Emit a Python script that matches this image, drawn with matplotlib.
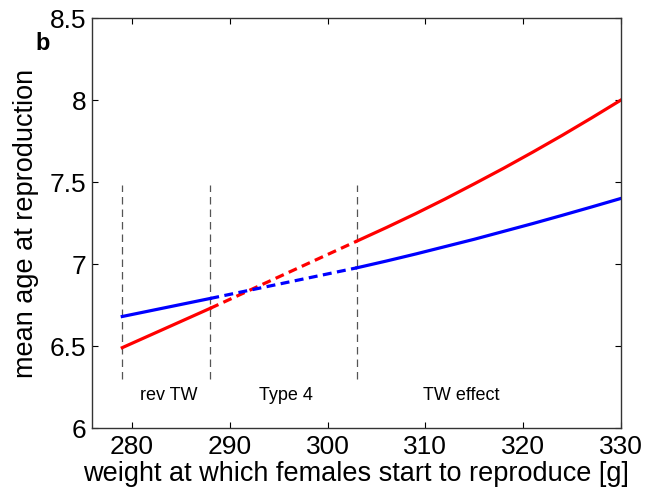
import numpy as np
import matplotlib.pyplot as plt

plt.rcParams['font.family'] = ['Liberation Sans', 'DejaVu Sans']

# boundaries between regimes
bounds = [279, 288, 303]

# red curve: solid left part, dashed middle, solid right part
red_left_x = [279, 288]
red_left_y = [6.49, 6.73]
red_mid_x = [288, 303]
red_mid_y = [6.73, 7.14]
red_right_x = [303, 306, 309, 312, 315, 318, 321, 324, 327, 330]
red_right_y = [7.14, 7.222, 7.307, 7.396, 7.489, 7.584, 7.683, 7.785, 7.891, 8.00]

# blue curve
blue_left_x = [279, 288]
blue_left_y = [6.68, 6.79]
blue_mid_x = [288, 303]
blue_mid_y = [6.79, 6.977]
blue_right_x = [303, 306, 309, 312, 315, 318, 321, 324, 327, 330]
blue_right_y = [6.977, 7.018, 7.061, 7.106, 7.151, 7.199, 7.247, 7.297, 7.348, 7.40]

region_labels = ['rev TW', 'Type 4', 'TW effect']
region_x = [283.8, 295.7, 313.7]

fig = plt.figure(figsize=(6.56, 4.91), dpi=100)
ax = fig.add_axes([0.1402, 0.1283, 0.8064, 0.835])

for b in bounds:
    ax.plot([b, b], [6.3, 7.48], color='#555555', lw=0.9, linestyle=(0, (6, 4)))

lw = 2.3
dash = (0, (2.8, 1.7))
ax.plot(red_left_x, red_left_y, color='red', lw=lw)
ax.plot(red_mid_x, red_mid_y, color='red', lw=lw, linestyle=dash)
ax.plot(red_right_x, red_right_y, color='red', lw=lw)
ax.plot(blue_left_x, blue_left_y, color='blue', lw=lw)
ax.plot(blue_mid_x, blue_mid_y, color='blue', lw=lw, linestyle=dash)
ax.plot(blue_right_x, blue_right_y, color='blue', lw=lw)

for lab, xx in zip(region_labels, region_x):
    ax.text(xx, 6.2, lab, ha='center', va='center', fontsize=13)

ax.set_xlim(275.9, 330)
ax.set_ylim(6, 8.5)
ax.set_xticks([280, 290, 300, 310, 320, 330])
ax.set_yticks([6, 6.5, 7, 7.5, 8, 8.5])
ax.set_yticklabels(['6', '6.5', '7', '7.5', '8', '8.5'])
ax.tick_params(direction='in', top=True, right=True, labelsize=19, length=4, width=0.8, pad=4)
ax.tick_params(axis='x', pad=5)
for s in ax.spines.values():
    s.set_linewidth(1.0)
    s.set_color('#333333')

ax.set_xlabel('weight at which females start to reproduce [g]', fontsize=19.5, labelpad=1.5)
ax.set_ylabel('mean age at reproduction', fontsize=19.5, labelpad=8)

fig.text(42.5 / 656, 1 - 44 / 491, 'b', fontsize=17, fontweight='bold', ha='center', va='center')

fig.savefig('out.png', dpi=100)
